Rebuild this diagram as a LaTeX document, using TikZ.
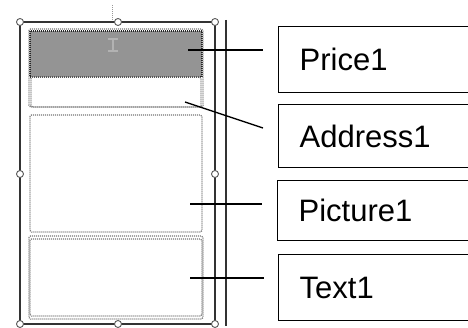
\documentclass[tikz,border=0pt]{standalone}
\usepackage{fontspec}
\setmainfont{Liberation Sans}
\tikzset{
  fieldbox/.style={draw=black!55, line width=1.2pt, dash pattern=on 1pt off 1pt, rounded corners=1.5pt},
  handle/.style={circle, draw=black!65, fill=white, line width=0.9pt, inner sep=0pt, minimum size=7pt},
  labelbox/.style={draw, line width=1.3pt, anchor=north west, text width=170pt, align=left,
    inner xsep=21pt, font=\fontsize{31}{36}\selectfont},
}
\begin{document}
\begin{tikzpicture}[x=1pt, y=-1pt, line width=1pt]
  \useasboundingbox (0,0) rectangle (468,328);
  % form frame
  \draw[black!40, dash pattern=on 1pt off 1pt] (112,5) -- (112,21);
  \draw[black!80, line width=2.8pt] (20,22) rectangle (215,324);
  \draw[black!80, line width=2.8pt] (226,20) -- (226,326);
  % fields
  \fill[black!42] (30,31) rectangle (202,77);
  \draw[black!85, line width=1.3pt, dash pattern=on 1pt off 1pt] (30,31) rectangle (202,77);
  \draw[black!30, line width=1.2pt] (108,39) -- (118,39) (113,39) -- (113,51) (108,51) -- (118,51);
  \draw[fieldbox] (29,29) rectangle (203,107);
  \draw[fieldbox] (31,77) rectangle (201,107);
  \draw[fieldbox] (30,115) rectangle (202,232);
  \draw[fieldbox] (30,239) rectangle (202,316);
  \draw[fieldbox] (29,236) rectangle (203,319);
  % sizing handles
  \foreach \x/\y in {20/22, 118/22, 215/22, 20/174, 215/174, 20/324, 118/324, 215/324}
    \node[handle] at (\x,\y) {};
  % labels
  \node[labelbox, minimum height=66pt] (price) at (278,26) {Price1};
  \node[labelbox, minimum height=63pt] (address) at (278,104) {Address1};
  \node[labelbox, minimum height=60pt] (picture) at (277,180) {Picture1};
  \node[labelbox, minimum height=66pt] (text) at (278,254) {Text1};
  % connectors
  \coordinate (priceA) at (188,50);
  \coordinate (priceB) at (263,50);
  \coordinate (addressA) at (185,102);
  \coordinate (addressB) at (263,128);
  \coordinate (pictureA) at (190,204);
  \coordinate (pictureB) at (262,204);
  \coordinate (textA) at (190,278);
  \coordinate (textB) at (264,278);
  \draw[line width=1.4pt] (priceA) -- (priceB);
  \draw[line width=1.4pt] (addressA) -- (addressB);
  \draw[line width=1.4pt] (pictureA) -- (pictureB);
  \draw[line width=1.4pt] (textA) -- (textB);
\end{tikzpicture}
\end{document}
